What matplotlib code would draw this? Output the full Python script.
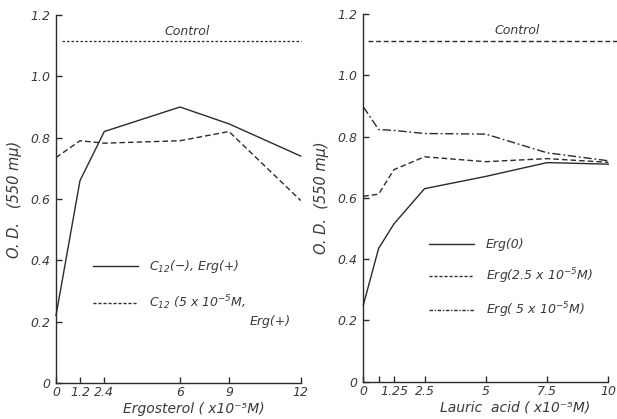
import matplotlib
matplotlib.use("Agg")
import matplotlib.pyplot as plt
from matplotlib.lines import Line2D
import numpy as np

# ---- data ----
erg_x = [0, 1.2, 2.4, 6, 9, 12]
c12_minus = [0.22, 0.66, 0.82, 0.90, 0.845, 0.74]
c12_5e5 = [0.735, 0.79, 0.782, 0.79, 0.82, 0.595]
control_left = 1.115

lauric_x = [0, 0.625, 1.25, 2.5, 5, 7.5, 10]
erg_0 = [0.25, 0.435, 0.515, 0.63, 0.67, 0.715, 0.71]
erg_25 = [0.605, 0.612, 0.692, 0.734, 0.718, 0.728, 0.716]
erg_5 = [0.897, 0.823, 0.82, 0.81, 0.808, 0.747, 0.721]
control_right = 1.112

left_xticks = [0, 1.2, 2.4, 6, 9, 12]
left_xticklabels = ['0', '1.2', '2.4', '6', '9', '12']
right_xticks = [0, 1.25, 2.5, 5, 7.5, 10]
right_xticklabels = ['0', '1.25', '2.5', '5', '7.5', '10']
yticks = [0, 0.2, 0.4, 0.6, 0.8, 1.0, 1.2]
yticklabels = ['0', '0.2', '0.4', '0.6', '0.8', '1.0', '1.2']

ink = '#2b2b2b'
txt = '#3a3a3a'
plt.rcParams['font.family'] = ['DejaVu Sans']
plt.rcParams['font.style'] = 'oblique'
plt.rcParams['mathtext.default'] = 'it'

# hand-drawn ergosterol axis is not evenly spaced
erg_px = [0, 24, 48.3, 124, 173, 244.7]


def fwd(v):
    return np.interp(v, left_xticks, erg_px)


def inv(v):
    return np.interp(v, erg_px, left_xticks)


fig = plt.figure(figsize=(6.17, 4.19), dpi=100)
ax1 = fig.add_axes([56 / 617, 36 / 419, 244.7 / 617, 368 / 419])
ax2 = fig.add_axes([363.3 / 617, 37.3 / 419, 245 / 617, 367.7 / 419])


def style_axes(ax):
    for s in ['top', 'right']:
        ax.spines[s].set_visible(False)
    for s in ['left', 'bottom']:
        ax.spines[s].set_color(ink)
        ax.spines[s].set_linewidth(1.0)
    ax.tick_params(direction='in', length=4, width=1.0, color=ink,
                   labelsize=9, labelcolor=txt, pad=4)
    ax.tick_params(axis='x', pad=2.5)
    ax.set_ylim(0, 1.2)
    ax.set_yticks(yticks)
    ax.set_yticklabels(yticklabels)
    ax.patch.set_visible(False)


# ---- left panel ----
ax1.set_xscale('function', functions=(fwd, inv))
ax1.plot(erg_x, c12_minus, color=ink, lw=1.0, clip_on=False)
ax1.plot(erg_x, c12_5e5, color=ink, lw=1.0, dashes=(4, 2.2), clip_on=False)
ax1.plot([0.3, 12], [control_left] * 2, color=ink, lw=0.9, dashes=(2, 1.6),
         clip_on=False)
ax1.set_xlim(0, 12)
style_axes(ax1)
ax1.set_xticks(left_xticks)
ax1.set_xticklabels(left_xticklabels)
ax1.text(0.537, 0.955, 'Control', transform=ax1.transAxes, ha='center',
         va='center', fontsize=9, color=txt)
ax1.text(0.565, -0.082, 'Ergosterol ( x10⁻⁵M)', transform=ax1.transAxes,
         ha='center', va='baseline', fontsize=10, color=txt)
ax1.set_ylabel('O. D.   (550 mμ)', fontsize=10.5, color=txt, labelpad=6)
h1 = [Line2D([], [], color=ink, lw=1.0),
      Line2D([], [], color=ink, lw=1.0, dashes=(2.2, 1.4))]
ax1.legend(h1, ['C$_{12}$(−), Erg(+)', 'C$_{12}$ (5 x 10$^{-5}$M,'],
           loc='upper left', bbox_to_anchor=(0.15, 0.34), frameon=False,
           fontsize=9, labelcolor=txt, handlelength=3.6, handletextpad=0.9,
           labelspacing=1.5, borderpad=0, borderaxespad=0)
ax1.text(0.96, 0.167, 'Erg(+)', transform=ax1.transAxes, ha='right',
         va='center', fontsize=9, color=txt)

# ---- right panel ----
ax2.plot(lauric_x, erg_0, color=ink, lw=1.0, clip_on=False)
ax2.plot(lauric_x, erg_25, color=ink, lw=1.0, dashes=(4, 2.2), clip_on=False)
ax2.plot(lauric_x, erg_5, color=ink, lw=1.0, dashes=(6, 2, 1.3, 2),
         clip_on=False)
ax2.plot([0.2, 10.35], [control_right] * 2, color=ink, lw=1.0,
         dashes=(3.5, 2), clip_on=False)
ax2.set_xlim(0, 10)
style_axes(ax2)
ax2.set_xticks(right_xticks)
ax2.set_xticklabels(right_xticklabels)
ax2.set_xticks([0.625], minor=True)
ax2.tick_params(which='minor', direction='in', length=4, width=1.0, color=ink)
ax2.text(0.627, 0.956, 'Control', transform=ax2.transAxes, ha='center',
         va='center', fontsize=9, color=txt)
ax2.text(0.62, -0.08, 'Lauric  acid ( x10⁻⁵M)', transform=ax2.transAxes,
         ha='center', va='baseline', fontsize=10, color=txt)
ax2.set_ylabel('O. D.  (550 mμ)', fontsize=10.5, color=txt, labelpad=6)
h2 = [Line2D([], [], color=ink, lw=1.0),
      Line2D([], [], color=ink, lw=1.0, dashes=(2.2, 1.4)),
      Line2D([], [], color=ink, lw=1.0, dashes=(2.5, 1.2, 1, 1.2))]
ax2.legend(h2, ['Erg(0)', 'Erg(2.5 x 10$^{-5}$M)', 'Erg( 5 x 10$^{-5}$M)'],
           loc='upper left', bbox_to_anchor=(0.27, 0.39), frameon=False,
           fontsize=9, labelcolor=txt, handlelength=3.6, handletextpad=0.9,
           labelspacing=1.2, borderpad=0, borderaxespad=0)

fig.savefig('out.png', dpi=100)
